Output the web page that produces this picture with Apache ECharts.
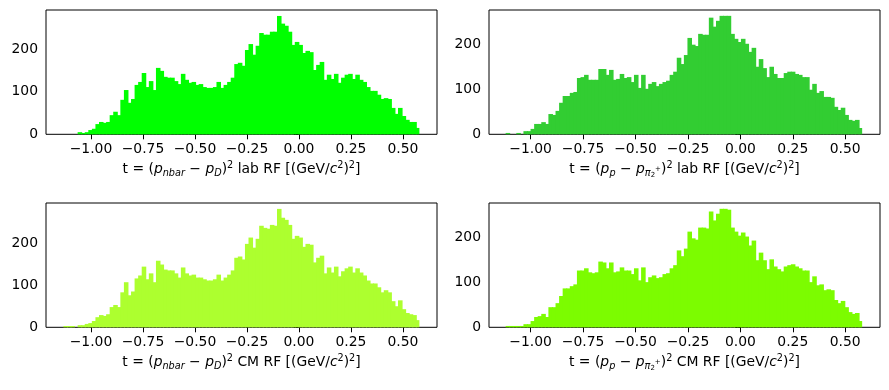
<!DOCTYPE html>
<html>
<head>
<meta charset="utf-8">
<script src="https://cdn.jsdelivr.net/npm/echarts@6/dist/echarts.min.js"></script>
<style>
html,body{margin:0;padding:0;background:#fff;}
#chart{width:889px;height:390px;}
</style>
</head>
<body>
<div id="chart"></div>
<script>
// ---- data (histogram counts, 100 bins each) ----
const nbarBinStart = -1.1327, nbarBinWidth = 0.017115;
const ppBinStart = -1.1194, ppBinWidth = 0.0170;

const nbarLabCounts = [0,0,0,0,5,3,5,10,13,24,29,27,29,45,53,45,81,104,74,83,116,123,144,111,125,104,156,149,135,133,133,125,118,142,128,121,123,116,118,111,109,109,111,123,109,116,123,133,165,168,161,198,212,187,208,238,234,234,241,241,278,260,255,241,210,217,210,191,196,193,151,163,170,128,140,130,142,121,133,140,142,130,140,128,123,111,102,102,93,83,85,83,62,48,62,43,34,29,29,15];
const ppLabCounts = [3,0,0,3,0,7,7,12,23,23,27,23,45,43,52,70,85,85,92,94,125,127,132,121,121,121,145,145,132,143,121,123,134,125,127,116,132,103,132,101,112,116,107,112,116,119,132,139,170,156,176,214,199,196,223,221,221,259,239,252,263,263,263,223,212,205,212,201,183,192,150,167,147,127,150,134,125,125,136,139,139,134,132,127,127,99,112,92,96,83,83,81,61,54,59,43,32,30,32,14];
const nbarCmCounts = [3,3,3,0,5,5,8,10,15,24,29,27,31,48,53,48,83,107,76,85,116,123,144,114,128,107,158,149,137,135,135,128,118,142,128,123,125,118,118,114,111,111,114,125,111,118,125,135,165,168,161,198,213,189,210,241,236,234,243,241,281,260,255,243,210,217,213,191,198,196,154,165,170,128,142,130,144,121,133,140,144,130,140,130,123,111,104,104,95,83,88,83,62,50,64,43,34,31,29,17];
const ppCmCounts = [3,3,3,3,3,7,7,14,23,25,30,23,45,45,54,70,87,87,92,96,127,127,132,123,121,123,147,145,132,145,123,125,134,127,127,119,132,105,134,101,112,116,110,112,119,121,132,139,172,159,176,214,199,196,223,223,221,259,239,254,265,265,263,223,214,205,212,203,183,194,150,167,150,130,152,136,130,125,136,139,141,136,132,127,127,101,114,94,96,83,85,83,61,54,59,45,34,30,32,14];

const xTicks = [-1.0, -0.75, -0.5, -0.25, 0.0, 0.25, 0.5];
const yTicks = [0, 100, 200];

// ---- layout / style ----
const FONT = 'DejaVu Sans';
const FS = 13.9;
const panels = [
  {counts: nbarLabCounts, start: nbarBinStart, width: nbarBinWidth, color: '#00ff00', left: 46, top: 10, xmin: -1.2163, xmax: 0.6635, ymax: 292, frame: 'lab', kind: 'nbar'},
  {counts: ppLabCounts, start: ppBinStart, width: ppBinWidth, color: '#32cd32', left: 489, top: 10, xmin: -1.1986, xmax: 0.6657, ymax: 276, frame: 'lab', kind: 'pp'},
  {counts: nbarCmCounts, start: nbarBinStart, width: nbarBinWidth, color: '#adff2f', left: 46, top: 203, xmin: -1.2163, xmax: 0.6635, ymax: 295, frame: 'CM', kind: 'nbar'},
  {counts: ppCmCounts, start: ppBinStart, width: ppBinWidth, color: '#7cfc00', left: 489, top: 203, xmin: -1.1986, xmax: 0.6657, ymax: 278, frame: 'CM', kind: 'pp'}
];

const rich = {
  n: {fontFamily: FONT, fontSize: FS, color: '#000', lineHeight: 18},
  i: {fontFamily: FONT, fontSize: FS, color: '#000', fontStyle: 'italic', lineHeight: 18},
  s: {fontFamily: FONT, fontSize: 9.7, color: '#000', fontStyle: 'italic', lineHeight: 10, verticalAlign: 'bottom'},
  ss: {fontFamily: FONT, fontSize: 7, color: '#000', lineHeight: 7, verticalAlign: 'bottom'},
  sp: {fontFamily: FONT, fontSize: 7, color: '#000', lineHeight: 7, verticalAlign: 'top', padding: [5, 0, 0, 0]},
  u: {fontFamily: FONT, fontSize: 9.7, color: '#000', lineHeight: 10, verticalAlign: 'top'}
};

function axisName(kind, frame) {
  const tail = '{n| ' + frame + ' RF [(GeV/}{i|c}{u|2}{n|)}{u|2}{n|]}';
  if (kind === 'nbar') {
    return '{n|t = (}{i|p}{s|nbar}{n| \u2212 }{i|p}{s|D}{n|)}{u|2}' + tail;
  }
  return '{n|t = (}{i|p}{s|p}{n| \u2212 }{i|p}{s|\u03c0}{ss|2}{sp|+}{n|)}{u|2}' + tail;
}

const grids = [], xAxes = [], yAxes = [], series = [];
panels.forEach((p, k) => {
  grids.push({left: p.left, top: p.top, width: 391, height: 124.3, show: true, borderColor: '#000', borderWidth: 1, backgroundColor: '#fff', containLabel: false});
  xAxes.push({
    type: 'value', gridIndex: k, min: p.xmin, max: p.xmax,
    splitLine: {show: false},
    axisLine: {show: false},
    axisTick: {show: true, inside: false, length: 5, lineStyle: {color: '#000', width: 1}, customValues: xTicks},
    axisLabel: {show: true, customValues: xTicks, margin: 8, color: '#000', fontFamily: FONT, fontSize: FS,
      formatter: v => v.toFixed(2).replace('-', '\u2212')},
    name: axisName(p.kind, p.frame), nameLocation: 'middle', nameGap: 26,
    nameTextStyle: {rich: rich, fontFamily: FONT, fontSize: FS, color: '#000'}
  });
  yAxes.push({
    type: 'value', gridIndex: k, min: 0, max: p.ymax,
    splitLine: {show: false},
    axisLine: {show: false},
    axisTick: {show: true, inside: false, length: 5, lineStyle: {color: '#000', width: 1}, customValues: yTicks},
    axisLabel: {show: true, customValues: yTicks, margin: 8, color: '#000', fontFamily: FONT, fontSize: FS}
  });
  const data = p.counts.map((c, i) => [p.start + i * p.width, p.start + (i + 1) * p.width, c]);
  const last = data.length - 1;
  series.push({
    type: 'custom', xAxisIndex: k, yAxisIndex: k, data: data,
    encode: {x: [0, 1], y: 2},
    silent: true, animation: false,
    renderItem: (params, api) => {
      const a = api.coord([api.value(0), api.value(2)]);
      const b = api.coord([api.value(1), 0]);
      const extra = params.dataIndex < last ? 1 : 0;
      return {type: 'rect', shape: {x: a[0], y: a[1], width: b[0] - a[0] + extra, height: b[1] - a[1]}, style: {fill: p.color}};
    }
  });
});

const chart = echarts.init(document.getElementById('chart'), null, {renderer: 'canvas'});
chart.setOption({
  backgroundColor: '#fff',
  animation: false,
  grid: grids, xAxis: xAxes, yAxis: yAxes, series: series
});
</script>
</body>
</html>
